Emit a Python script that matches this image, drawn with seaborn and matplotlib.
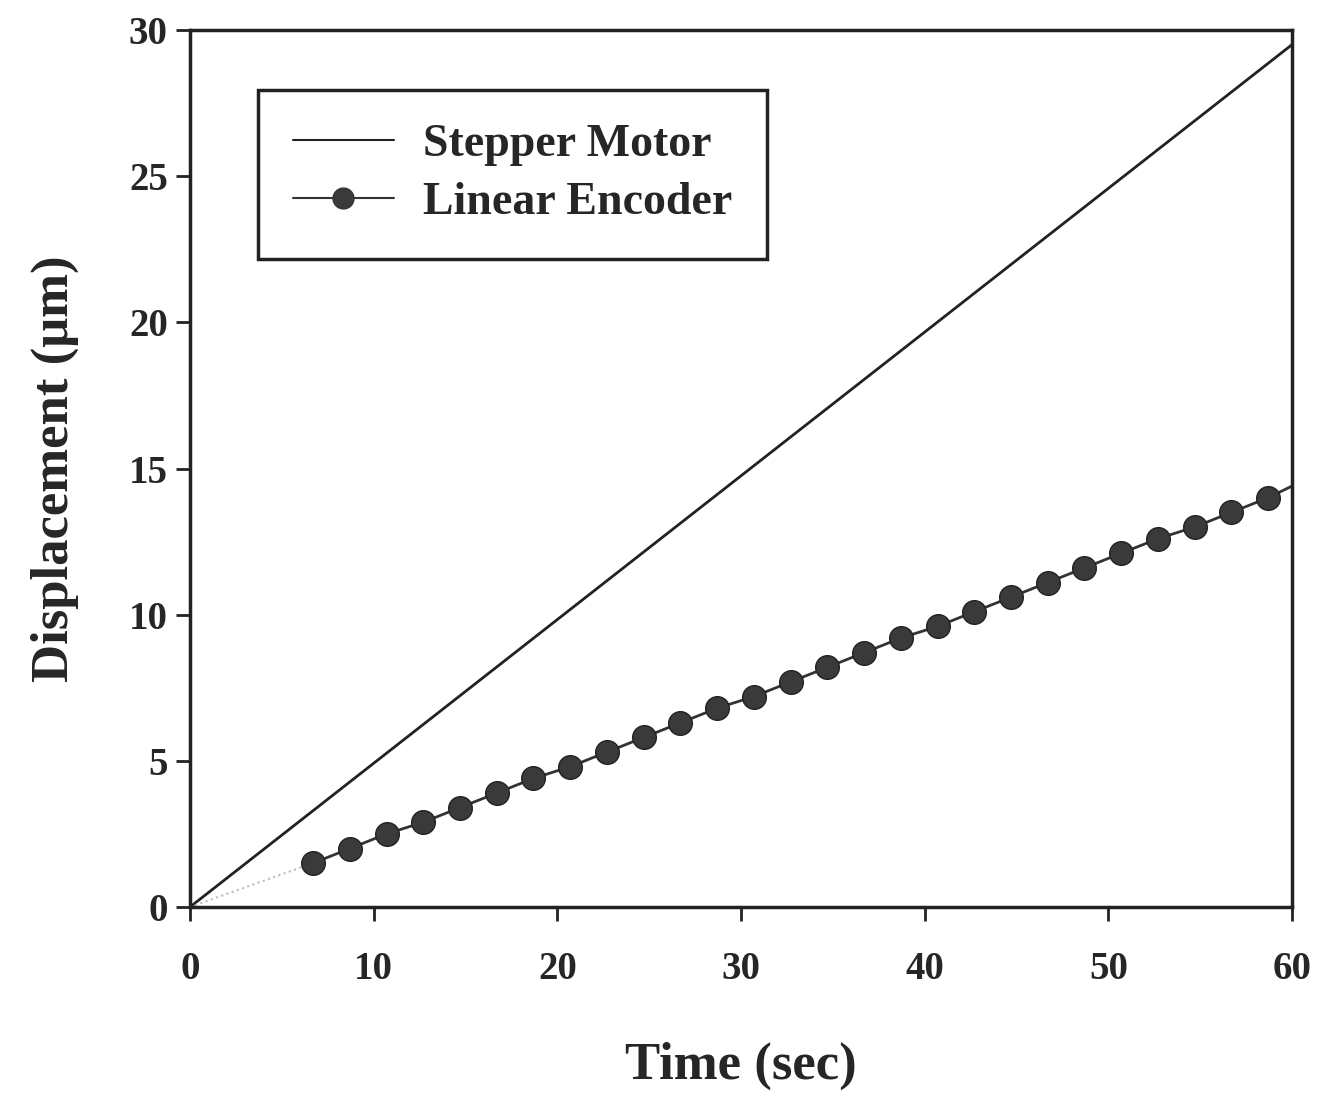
import numpy as np
import pandas as pd
import matplotlib
matplotlib.use('Agg')
import matplotlib.pyplot as plt
from matplotlib.lines import Line2D
import seaborn as sns

# 数据
motor_t = [0, 60]
motor_d = [0, 29.5]

enc_t = [6.7, 8.7, 10.7, 12.7, 14.7, 16.7, 18.7, 20.7, 22.7, 24.7, 26.7, 28.7,
         30.7, 32.7, 34.7, 36.7, 38.7, 40.7, 42.7, 44.7, 46.7, 48.7, 50.7,
         52.7, 54.7, 56.7, 58.7]
enc_d = [1.5, 2.0, 2.5, 2.9, 3.4, 3.9, 4.4, 4.8, 5.3, 5.8, 6.3, 6.8,
         7.2, 7.7, 8.2, 8.7, 9.2, 9.6, 10.1, 10.6, 11.1, 11.6, 12.1,
         12.6, 13.0, 13.5, 14.0]
enc_end_t = 60
enc_end_d = 14.4
# 起始段虚线
lead_t = [0, 6.7]
lead_d = [0, 1.5]

x_ticks = [0, 10, 20, 30, 40, 50, 60]
y_ticks = [0, 5, 10, 15, 20, 25, 30]

sns.set_theme(style='ticks')
plt.rcParams['font.family'] = ['Liberation Serif', 'DejaVu Serif']
plt.rcParams['font.weight'] = 'bold'

fig = plt.figure(figsize=(13.23, 10.99), dpi=100)
ax = fig.add_axes([0.1436, 0.1747, 0.833, 0.798])

motor = pd.DataFrame({'t': motor_t, 'd': motor_d})
enc = pd.DataFrame({'t': enc_t + [enc_end_t], 'd': enc_d + [enc_end_d]})
pts = pd.DataFrame({'t': enc_t, 'd': enc_d})
lead = pd.DataFrame({'t': lead_t, 'd': lead_d})

sns.lineplot(data=motor, x='t', y='d', ax=ax, color='#222222', lw=2.0,
             legend=False)
sns.lineplot(data=lead, x='t', y='d', ax=ax, color='#bbbbbb', lw=1.5,
             linestyle=':', legend=False)
sns.lineplot(data=enc, x='t', y='d', ax=ax, color='#333333', lw=2.0,
             legend=False)
sns.scatterplot(data=pts, x='t', y='d', ax=ax, color='#3a3a3a', s=290,
                edgecolor='#222222', linewidth=1, legend=False, zorder=3)

# 图例
handles = [Line2D([], [], color='#222222', lw=1.5),
           Line2D([], [], color='#333333', lw=1.5, marker='o',
                  markersize=15, markerfacecolor='#3a3a3a')]
leg = ax.legend(handles, ['Stepper Motor', 'Linear Encoder'],
                loc='upper left', bbox_to_anchor=(0.062, 0.932),
                borderaxespad=0, fancybox=False, edgecolor='#222222',
                framealpha=1, fontsize=33, handlelength=2.2,
                borderpad=0.75, labelspacing=0.35, handletextpad=0.65)
leg.get_frame().set_linewidth(2.5)
for txt in leg.get_texts():
    txt.set_fontweight('bold')

ax.set_xlim(0, 60)
ax.set_ylim(0, 30)
ax.set_xticks(x_ticks)
ax.set_yticks(y_ticks)
ax.tick_params(axis='both', direction='out', length=10, width=2,
               labelsize=28, color='#222222')
ax.tick_params(axis='x', pad=22)
ax.tick_params(axis='y', pad=6)
for lab in ax.get_xticklabels() + ax.get_yticklabels():
    lab.set_fontweight('bold')
for sp in ax.spines.values():
    sp.set_linewidth(2.5)
    sp.set_color('#222222')
    sp.set_visible(True)

ax.set_xlabel('Time (sec)', fontsize=38, fontweight='bold', labelpad=38)
ax.set_ylabel('Displacement (\u03bcm)', fontsize=38, fontweight='bold',
              labelpad=36)

fig.savefig('out.png', dpi=100)
